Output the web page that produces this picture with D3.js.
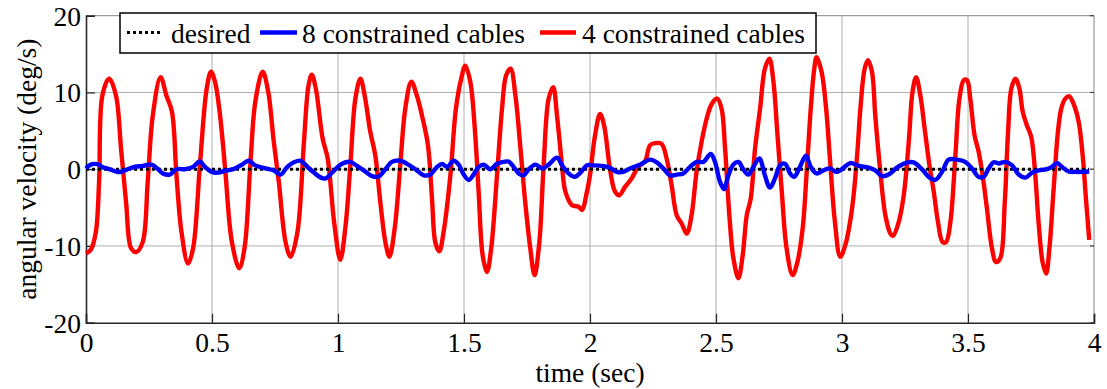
<!DOCTYPE html>
<html>
<head>
<meta charset="utf-8">
<script src="https://cdn.jsdelivr.net/npm/d3@7"></script>
<style>
  html, body { margin: 0; padding: 0; background: #fff; }
  svg { display: block; }
  text { font-family: "Liberation Serif", "Times New Roman", serif; fill: #000; }
</style>
</head>
<body>
<svg id="chart" width="1107" height="389"></svg>
<script>
// Angular velocity error, 4 vs 8 constrained cables
const redTime = [0, .019, .039, .052, .065, .092, .119, .139, .159, .179, .199, .225, .245, .265, .296, .319, .341, .359, .379, .405, .425, .452, .479, .496, .512, .532, .552, .579, .608, .629, .652, .672, .701, .723, .745, .765, .792, .812, .839, .865, .883, .896, .912, .939, .959, .985,
  1.009, 1.029, 1.049, 1.069, 1.089, 1.108, 1.128, 1.148, 1.168, 1.188, 1.204, 1.225, 1.247, 1.267, 1.291, 1.313, 1.336, 1.357, 1.373, 1.386, 1.402, 1.419, 1.446, 1.468, 1.489, 1.505, 1.525, 1.542, 1.558, 1.574, 1.591, 1.608, 1.631, 1.651, 1.667, 1.685, 1.704, 1.724, 1.743, 1.763, 1.780, 1.799, 1.816, 1.836, 1.854, 1.869, 1.889, 1.902, 1.929, 1.955, 1.968, 1.988,
  2.0, 2.020, 2.040, 2.056, 2.079, 2.099, 2.116, 2.139, 2.165, 2.192, 2.218, 2.238, 2.258, 2.284, 2.304, 2.324, 2.344, 2.364, 2.384, 2.403, 2.423, 2.443, 2.463, 2.483, 2.505, 2.522, 2.536, 2.553, 2.569, 2.589, 2.606, 2.622, 2.638, 2.655, 2.675, 2.694, 2.712, 2.728, 2.743, 2.761, 2.780, 2.804, 2.823, 2.844, 2.860, 2.876, 2.890, 2.899, 2.919, 2.937, 2.952, 2.972, 2.993,
  3.013, 3.040, 3.060, 3.073, 3.090, 3.103, 3.119, 3.132, 3.152, 3.172, 3.192, 3.202, 3.225, 3.245, 3.265, 3.280, 3.294, 3.311, 3.328, 3.347, 3.364, 3.381, 3.399, 3.413, 3.430, 3.450, 3.466, 3.483, 3.496, 3.509, 3.526, 3.542, 3.558, 3.575, 3.595, 3.611, 3.628, 3.646, 3.659, 3.672, 3.688, 3.704, 3.717, 3.734, 3.751, 3.767, 3.780, 3.796, 3.810, 3.823, 3.840, 3.857, 3.870, 3.886, 3.902, 3.919, 3.939, 3.955, 3.968, 3.981];
const redValue = [-11.0, -10.5, -8.2, -1.6, 9.6, 11.8, 9.6, 2.7, -4.3, -10.3, -10.8, -9.5, -1.6, 7.0, 12.0, 9.6, 7.5, -0.8, -8.2, -12.3, -10.3, 0.5, 10.5, 12.7, 11.4, 7.0, 0.1, -9.5, -12.9, -10.3, 0.5, 8.8, 12.7, 10.1, 3.6, -1.6, -9.5, -11.4, -8.2, 3.6, 10.9, 12.3, 10.5, 4.0, 1.4, -7.0,
  -11.8, -7.7, 0.5, 9.2, 11.8, 9.2, 4.9, 1.8, -4.3, -9.5, -11.4, -7.7, 0.5, 7.9, 11.4, 9.6, 6.6, 3.1, -3.8, -9.5, -10.7, -8.2, -0.8, 7.9, 11.8, 13.5, 11.4, 5.7, -2.9, -11.2, -13.4, -10.3, -0.8, 7.9, 12.2, 13.1, 9.6, 2.7, -4.3, -10.3, -13.8, -9.5, 0.5, 9.2, 10.7, 7.0, 0.5, -2.9, -4.7, -4.9, -5.3, -2.9,
  -0.8, 4.4, 7.2, 5.7, 0.1, -2.9, -3.4, -2.3, -1.2, 0.3, 1.0, 3.1, 3.4, 3.3, 1.4, -2.1, -6.0, -7.1, -8.4, -6.0, -0.3, 3.6, 6.6, 8.5, 9.2, 7.9, 2.7, -6.0, -11.6, -14.2, -11.2, -6.0, -3.8, 2.7, 7.9, 13.1, 14.4, 11.4, 4.9, -2.9, -10.3, -13.8, -12.1, -7.7, -0.3, 7.9, 13.1, 14.6, 12.7, 7.9, 1.4, -6.9, -11.4,
  -9.9, -5.1, 1.8, 7.9, 13.1, 14.2, 12.7, 7.0, -0.3, -6.0, -8.4, -8.7, -6.9, -3.4, 3.6, 10.1, 12.0, 9.6, 5.3, 0.5, -2.9, -6.9, -9.5, -9.5, -6.9, 1.8, 9.2, 11.6, 11.6, 9.2, 4.4, 2.3, -0.8, -5.1, -10.3, -12.1, -11.6, -4.3, 4.9, 10.5, 11.8, 10.5, 7.5, 5.7, 4.2, -0.8, -6.9, -12.1, -13.6, -10.3, -2.5, 4.9, 7.9, 9.2, 9.5, 8.5, 6.2, 1.8, -3.8, -9.2];

const blueTime = [0, .019, .045, .065, .092, .119, .139, .165, .192, .225, .259, .279, .305, .332, .359, .392, .425, .452, .472, .499, .525, .552, .585, .619, .645, .672, .712, .745, .772, .799, .825, .852, .879, .905, .932, .952, .979,
  1.016, 1.049, 1.075, 1.108, 1.135, 1.161, 1.188, 1.214, 1.247, 1.274, 1.307, 1.340, 1.366, 1.393, 1.413, 1.433, 1.459, 1.479, 1.499, 1.519, 1.538, 1.558, 1.578, 1.604, 1.631, 1.657, 1.677, 1.697, 1.717, 1.737, 1.757, 1.783, 1.810, 1.836, 1.869, 1.889, 1.915, 1.939, 1.962, 1.988,
  2.013, 2.053, 2.079, 2.106, 2.132, 2.159, 2.192, 2.218, 2.238, 2.265, 2.291, 2.317, 2.344, 2.370, 2.397, 2.423, 2.450, 2.479, 2.496, 2.516, 2.532, 2.549, 2.569, 2.589, 2.608, 2.628, 2.648, 2.672, 2.694, 2.714, 2.734, 2.754, 2.774, 2.794, 2.810, 2.833, 2.857, 2.876, 2.899, 2.926, 2.952, 2.979,
  3.007, 3.033, 3.066, 3.106, 3.132, 3.159, 3.185, 3.218, 3.251, 3.284, 3.317, 3.344, 3.370, 3.397, 3.423, 3.456, 3.489, 3.516, 3.542, 3.562, 3.582, 3.602, 3.622, 3.648, 3.675, 3.701, 3.728, 3.754, 3.780, 3.813, 3.833, 3.853, 3.873, 3.899, 3.926, 3.952, 3.981];
const blueValue = [0.1, 0.6, 0.65, 0.3, 0, -0.3, -0.35, 0, 0.3, 0.43, 0.6, 0.2, -0.55, -0.7, 0, 0, 0.3, 1.0, 0.3, -0.35, -0.45, -0.2, 0, 0.6, 1.1, 0.5, 0.1, -0.15, -0.7, 0.3, 0.9, 1.1, 0.3, -0.45, -1.1, -1.2, -0.35,
  0.7, 0.95, 0.43, -0.3, -0.9, -0.95, 0, 0.95, 1.1, 0.7, 0, -0.8, -0.7, 0.3, 0.7, 0.3, 1.1, 0.6, -0.7, -1.4, -0.7, 0.3, 0.6, 0, 0.7, 0.95, 1.0, 0.3, -0.55, -0.8, 0, 0.6, 0.1, 0.6, 1.5, 0.5, -0.55, -1.0, -0.45, 0.5,
  0.5, 0.4, 0.2, -0.35, -0.35, 0.1, 0.5, 0.95, 1.25, 0.9, 0.1, -0.8, -0.7, -0.55, 0.3, 0.95, 0.95, 2.0, 0.95, -1.65, -2.6, -0.8, 0.6, 0.95, 0, -0.7, 0.3, 1.4, -0.8, -2.4, -1.2, 0.5, 0.7, -0.55, -1.0, 0.3, 1.75, 0.3, -0.55, -0.15, 0.1, -0.35,
  0.2, 0.8, 0.45, 0.2, -0.15, -0.9, -0.7, 0.2, 0.8, 0.9, 0, -1.0, -1.4, -0.35, 1.25, 1.25, 0.95, 0.1, -1.0, -1.0, 0.1, 0.9, 0.75, 0.95, 0.5, -0.7, -1.1, -0.45, -0.15, 0, 0.3, 0.8, 0.3, -0.3, -0.35, -0.35, -0.3];

const desiredTime = [0, 3.98];
const desiredValue = [0, 0];

const xTicks = [0, 0.5, 1, 1.5, 2, 2.5, 3, 3.5, 4];
const yTicks = [-20, -10, 0, 10, 20];
const seriesNames = ["desired", "8 constrained cables", "4 constrained cables"];

const FONT = 27.5;
const svg = d3.select("#chart");
const plot = { left: 86, right: 1094, top: 15.7, bottom: 322.7 };

const x = d3.scaleLinear().domain([0, 4]).range([plot.left, plot.right]);
const y = d3.scaleLinear().domain([-20, 20]).range([plot.bottom, plot.top]);

// grid
const grid = svg.append("g").attr("stroke", "#b0b0b0").attr("stroke-width", 1);
grid.selectAll("line.gx").data(xTicks.slice(1, -1)).join("line")
  .attr("x1", d => x(d)).attr("x2", d => x(d))
  .attr("y1", plot.top).attr("y2", plot.bottom);
grid.selectAll("line.gy").data(yTicks.slice(1, -1)).join("line")
  .attr("x1", plot.left).attr("x2", plot.right)
  .attr("y1", d => y(d)).attr("y2", d => y(d));

// top/right frame
svg.append("line").attr("x1", plot.left).attr("x2", plot.right).attr("y1", plot.top).attr("y2", plot.top)
  .attr("stroke", "#9a9a9a").attr("stroke-width", 1.2);
svg.append("line").attr("x1", plot.right).attr("x2", plot.right).attr("y1", plot.top).attr("y2", plot.bottom)
  .attr("stroke", "#9a9a9a").attr("stroke-width", 1.2);

// axes; plain hyphen for negative labels
const fmt = d => String(d);
const xAxis = d3.axisBottom(x).tickValues(xTicks).tickSize(-9).tickPadding(0).tickFormat(fmt);
const gx = svg.append("g").attr("transform", `translate(0,${plot.bottom})`).call(xAxis);
const yAxis = d3.axisLeft(y).tickValues(yTicks).tickSize(-9).tickPadding(5).tickFormat(fmt);
const gy = svg.append("g").attr("transform", `translate(${plot.left},0)`).call(yAxis);
[gx, gy].forEach(g => {
  g.select(".domain").attr("stroke", "#262626").attr("stroke-width", 1.6);
  g.selectAll(".tick line").attr("stroke", "#262626").attr("stroke-width", 1.2);
  g.selectAll(".tick text").attr("font-size", FONT).attr("fill", "#000");
});
gx.selectAll(".tick text").attr("y", 352 - plot.bottom).attr("dy", null);
gy.selectAll(".tick text").attr("dy", "0.34em");
// right-side ticks
svg.append("g").selectAll("line").data(yTicks).join("line")
  .attr("x1", plot.right).attr("x2", plot.right - 4)
  .attr("y1", d => y(d)).attr("y2", d => y(d))
  .attr("stroke", "#444").attr("stroke-width", 1.2);

// series
const line = d3.line().x(d => x(d[0])).y(d => y(d[1])).curve(d3.curveCatmullRom.alpha(0.5));
const zip = (a, b) => a.map((t, i) => [t, b[i]]);

svg.append("path").datum(zip(redTime, redValue)).attr("d", line)
  .attr("fill", "none").attr("stroke", "#ff0000").attr("stroke-width", 4.4).attr("stroke-linejoin", "round");
svg.append("path").datum(zip(desiredTime, desiredValue)).attr("d", d3.line().x(d => x(d[0])).y(d => y(d[1])))
  .attr("fill", "none").attr("stroke", "#000").attr("stroke-width", 3).attr("stroke-dasharray", "3,3");
svg.append("path").datum(zip(blueTime, blueValue)).attr("d", line)
  .attr("fill", "none").attr("stroke", "#0000ff").attr("stroke-width", 4.4).attr("stroke-linejoin", "round");

// axis labels
svg.append("text").attr("x", x(2)).attr("y", 382).attr("text-anchor", "middle")
  .attr("font-size", FONT).text("time (sec)");
svg.append("text").attr("transform", `translate(36,${(plot.top + plot.bottom) / 2}) rotate(-90)`)
  .attr("text-anchor", "middle").attr("font-size", FONT).text("angular velocity (deg/s)");

// legend
const legend = svg.append("g");
legend.append("rect").attr("x", 120).attr("y", 13).attr("width", 696).attr("height", 40)
  .attr("fill", "#fff").attr("stroke", "#000").attr("stroke-width", 1.5);
const legendItems = [
  { name: seriesNames[0], color: "#000", dash: "3,3", width: 3, x0: 127, x1: 163, tx: 171 },
  { name: seriesNames[1], color: "#0000ff", dash: null, width: 4.4, x0: 260, x1: 297, tx: 302 },
  { name: seriesNames[2], color: "#ff0000", dash: null, width: 4.4, x0: 540, x1: 576, tx: 582 }
];
legendItems.forEach(it => {
  legend.append("line").attr("x1", it.x0).attr("x2", it.x1).attr("y1", 32.5).attr("y2", 32.5)
    .attr("stroke", it.color).attr("stroke-width", it.width).attr("stroke-dasharray", it.dash);
  legend.append("text").attr("x", it.tx).attr("y", 43).attr("font-size", FONT).text(it.name);
});
</script>
</body>
</html>
